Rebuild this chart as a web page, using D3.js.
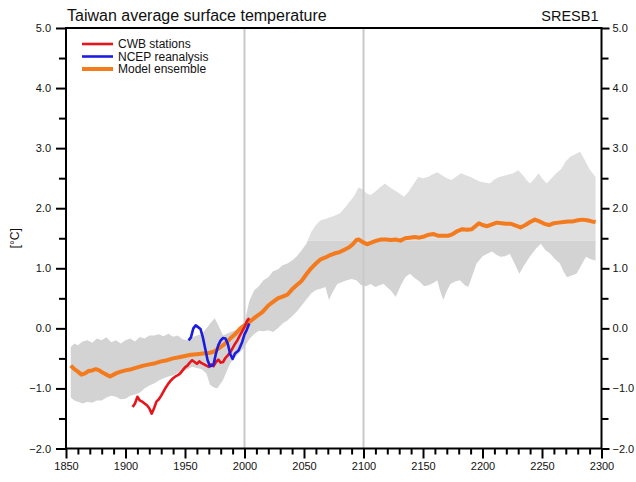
<!DOCTYPE html>
<html>
<head>
<meta charset="utf-8">
<script src="https://cdn.jsdelivr.net/npm/d3@7"></script>
<style>
  html, body { margin: 0; padding: 0; background: #fff; }
  svg { display: block; font-family: "Liberation Sans", Arial, Helvetica, sans-serif; }
</style>
</head>
<body>
<svg id="chart" width="636" height="482"></svg>
<script>
// Ensemble spread (min/max envelope of the model runs)
const bandYears = [1854,1857,1860,1864,1868,1872,1876,1880,1884,1888,1892,1896,1900,1904,1908,1912,1916,1920,1924,1928,1932,1936,1940,1944,1948,1952,1956,1960,1964,1968,1972,1975,1978,1982,1986,1990,1994,1998,2000,2004,2008,2012,2016,2020,2024,2028,2032,2036,2040,2044,2048,2052,2056,2060,2064,2068,2072,2076,2080,2084,2088,2092,2096,2100,2103,2106,2110,2114,2118,2122,2126,2130,2134,2138,2142,2146,2150,2154,2158,2162,2166,2170,2174,2178,2182,2186,2190,2194,2198,2202,2206,2210,2214,2218,2222,2226,2230,2234,2238,2240,2244,2247,2250,2254,2258,2262,2266,2270,2274,2278,2282,2286,2290,2295];
const bandUpper = [-0.31,-0.25,-0.28,-0.22,-0.2,-0.24,-0.17,-0.2,-0.15,-0.23,-0.2,-0.25,-0.2,-0.17,-0.22,-0.145,-0.17,-0.12,-0.12,-0.1,-0.13,-0.09,-0.14,-0.12,-0.18,-0.2,-0.15,-0.12,-0.1,0.0,0.1,0.17,0.05,-0.12,-0.08,-0.05,-0.02,0.05,0.1,0.45,0.63,0.7,0.8,0.85,0.95,0.98,1.05,1.08,1.13,1.2,1.3,1.41,1.6,1.72,1.8,1.82,1.85,1.88,1.91,2.0,2.1,2.2,2.35,2.3,2.24,2.22,2.28,2.35,2.41,2.35,2.3,2.25,2.19,2.28,2.4,2.52,2.5,2.52,2.56,2.6,2.55,2.5,2.47,2.53,2.58,2.55,2.52,2.48,2.44,2.43,2.41,2.48,2.52,2.54,2.56,2.58,2.63,2.55,2.45,2.41,2.5,2.58,2.5,2.41,2.5,2.58,2.65,2.78,2.86,2.9,2.94,2.8,2.65,2.52];
const lowerYears = [1854,1857,1860,1864,1868,1872,1876,1880,1884,1888,1892,1896,1900,1904,1908,1912,1916,1920,1924,1928,1932,1936,1940,1944,1948,1952,1956,1960,1964,1968,1971,1974,1977,1980,1982,1985,1988,1992,1996,2000,2004,2008,2012,2016,2020,2024,2028,2032,2036,2040,2044,2048,2052,2056,2060,2064,2068,2071,2074,2078,2082,2086,2090,2094,2098,2102,2106,2110,2114,2117,2120,2123,2127,2131,2135,2139,2143,2147,2151,2155,2159,2162,2164,2167,2170,2173,2177,2181,2185,2188,2191,2195,2200,2204,2208,2212,2215,2219,2223,2227,2231,2235,2240,2245,2249,2253,2257,2261,2265,2268,2271,2275,2279,2283,2287,2291,2295];
const bandLower = [-1.15,-1.2,-1.22,-1.25,-1.22,-1.24,-1.2,-1.2,-1.15,-1.12,-1.14,-1.18,-1.17,-1.12,-1.1,-1.07,-1.0,-0.95,-0.92,-0.87,-0.83,-0.8,-0.78,-0.74,-0.72,-0.68,-0.64,-0.66,-0.68,-0.75,-0.94,-0.98,-1.0,-0.92,-0.86,-0.72,-0.58,-0.48,-0.4,-0.31,-0.18,-0.1,-0.04,-0.05,-0.03,-0.06,0.0,0.08,0.13,0.2,0.28,0.38,0.48,0.58,0.64,0.66,0.69,0.47,0.6,0.74,0.77,0.8,0.82,0.8,0.72,0.7,0.74,0.69,0.72,0.74,0.68,0.63,0.52,0.7,0.85,0.91,0.84,0.78,0.7,0.72,0.76,0.8,0.65,0.47,0.62,0.74,0.78,0.8,0.72,0.69,0.85,1.08,1.2,1.24,1.28,1.22,1.19,1.2,1.24,1.08,0.91,1.05,1.2,1.33,1.41,1.3,1.24,1.15,1.08,0.95,0.85,0.88,0.91,1.05,1.19,1.15,1.13];

// Model ensemble mean
const modelYears = [1854,1857,1860,1863,1866,1869,1872,1875,1878,1881,1884,1887,1890,1893,1896,1900,1905,1910,1915,1920,1925,1930,1935,1940,1945,1950,1955,1960,1965,1970,1974,1977,1980,1984,1988,1992,1996,2000,2005,2010,2015,2020,2024,2028,2032,2036,2040,2044,2048,2052,2056,2060,2064,2068,2072,2076,2080,2084,2088,2091,2094,2096,2099,2103,2107,2111,2115,2119,2123,2127,2131,2135,2139,2143,2147,2151,2155,2159,2163,2167,2171,2175,2179,2183,2187,2191,2194,2197,2200,2204,2208,2212,2216,2220,2224,2228,2232,2236,2240,2244,2248,2252,2256,2260,2264,2268,2272,2276,2280,2284,2288,2292,2295];
const modelMean = [-0.62,-0.68,-0.72,-0.77,-0.75,-0.71,-0.7,-0.68,-0.7,-0.74,-0.77,-0.8,-0.77,-0.74,-0.72,-0.7,-0.68,-0.65,-0.62,-0.6,-0.58,-0.55,-0.53,-0.5,-0.48,-0.46,-0.44,-0.43,-0.42,-0.41,-0.39,-0.35,-0.31,-0.25,-0.17,-0.1,-0.01,0.05,0.12,0.2,0.27,0.38,0.44,0.5,0.53,0.56,0.65,0.72,0.79,0.9,1.0,1.08,1.15,1.18,1.22,1.25,1.27,1.31,1.35,1.4,1.47,1.48,1.44,1.4,1.43,1.46,1.48,1.48,1.47,1.48,1.46,1.5,1.51,1.52,1.51,1.53,1.56,1.57,1.54,1.54,1.54,1.57,1.62,1.65,1.64,1.65,1.7,1.75,1.72,1.7,1.73,1.76,1.75,1.74,1.74,1.71,1.68,1.72,1.77,1.81,1.78,1.74,1.72,1.75,1.76,1.77,1.78,1.78,1.8,1.81,1.8,1.78,1.77];

// CWB station average
const cwbYears = [1906,1908,1910,1912,1914,1916,1918,1920,1922,1924,1926,1928,1930,1932,1934,1936,1938,1940,1942,1944,1946,1948,1950,1952,1954,1956,1958,1960,1962,1964,1966,1968,1970,1972,1974,1976,1978,1980,1982,1984,1986,1988,1990,1992,1994,1996,1998,2000,2002,2004];
const cwbValues = [-1.31,-1.25,-1.14,-1.2,-1.22,-1.25,-1.28,-1.33,-1.42,-1.33,-1.22,-1.18,-1.12,-1.05,-0.98,-0.92,-0.87,-0.83,-0.8,-0.78,-0.75,-0.7,-0.65,-0.62,-0.57,-0.53,-0.56,-0.59,-0.55,-0.58,-0.6,-0.62,-0.64,-0.6,-0.63,-0.56,-0.52,-0.57,-0.56,-0.49,-0.45,-0.4,-0.33,-0.26,-0.2,-0.12,-0.05,0.02,0.12,0.17];

// NCEP reanalysis
const ncepYears = [1953,1955,1957,1959,1961,1963,1965,1967,1969,1971,1973,1974,1976,1978,1980,1982,1984,1986,1988,1990,1992,1995,1998,2000,2002,2004];
const ncepValues = [-0.2,-0.15,0.0,0.05,0.02,-0.01,-0.15,-0.34,-0.53,-0.63,-0.62,-0.6,-0.42,-0.28,-0.2,-0.16,-0.17,-0.26,-0.43,-0.51,-0.42,-0.37,-0.23,-0.1,-0.02,0.08];

const xMajor = [1850,1900,1950,2000,2050,2100,2150,2200,2250,2300];
const yMajor = [-2,-1,0,1,2,3,4,5];
const markerYears = [2000,2100];
const legendItems = ["CWB stations","NCEP reanalysis","Model ensemble"];
const colors = { cwb: "#e8141c", ncep: "#1c1ce0", model: "#f47a1e" };

const svg = d3.select("#chart");
const m = { left: 66, right: 34.5, top: 28, bottom: 33.5 };
const W = 636, H = 482;
const x = d3.scaleLinear().domain([1850, 2300]).range([m.left, W - m.right]);
const y = d3.scaleLinear().domain([-2, 5]).range([H - m.bottom, m.top]);

svg.append("defs").call(d => {
  d.append("clipPath").attr("id", "clipHigh")
    .append("rect").attr("x", m.left).attr("width", W - m.left - m.right)
    .attr("y", m.top).attr("height", y(1.46) - m.top);
  d.append("clipPath").attr("id", "clipLow")
    .append("rect").attr("x", m.left).attr("width", W - m.left - m.right)
    .attr("y", y(1.46)).attr("height", H - m.bottom - y(1.46));
});

// Envelope polygon: upper edge forward, lower edge back
const upperPts = bandYears.map((yr, i) => [x(yr), y(bandUpper[i])]);
const lowerPts = lowerYears.map((yr, i) => [x(yr), y(bandLower[i])]).reverse();
const polyPath = "M" + upperPts.concat(lowerPts).map(p => p.join(",")).join("L") + "Z";
svg.append("path").attr("d", polyPath).attr("fill", "#dfdfdf").attr("clip-path", "url(#clipHigh)");
svg.append("path").attr("d", polyPath).attr("fill", "#d3d3d3").attr("clip-path", "url(#clipLow)");

// Reference years
svg.selectAll(".marker").data(markerYears).join("line")
  .attr("x1", d => x(d)).attr("x2", d => x(d))
  .attr("y1", m.top).attr("y2", H - m.bottom)
  .attr("stroke", "#c9c9c9").attr("stroke-width", 2);

const line = d3.line().x(d => x(d[0])).y(d => y(d[1])).curve(d3.curveLinear);
svg.append("path").datum(modelYears.map((yr, i) => [yr, modelMean[i]]))
  .attr("d", line).attr("fill", "none").attr("stroke", colors.model)
  .attr("stroke-width", 4).attr("stroke-linejoin", "round");
svg.append("path").datum(cwbYears.map((yr, i) => [yr, cwbValues[i]]))
  .attr("d", line).attr("fill", "none").attr("stroke", colors.cwb)
  .attr("stroke-width", 2.6).attr("stroke-linejoin", "round");
svg.append("path").datum(ncepYears.map((yr, i) => [yr, ncepValues[i]]))
  .attr("d", line).attr("fill", "none").attr("stroke", colors.ncep)
  .attr("stroke-width", 2.6).attr("stroke-linejoin", "round");

// Axes
const fmt = d3.format(".1f");
function styleAxis(g) {
  g.select(".domain").remove();
  g.selectAll(".tick line").attr("stroke", "#000").attr("stroke-width", 2);
  g.selectAll(".tick text").attr("fill", "#111").attr("font-size", 11);
}
const xMinor = d3.range(1850, 2301, 10).filter(v => v % 50 !== 0);
const yMinor = d3.range(-1.5, 5, 1);

svg.append("g").attr("transform", `translate(0,${H - m.bottom})`)
  .call(d3.axisBottom(x).tickValues(xMajor).tickFormat(d3.format("d")).tickSize(10).tickPadding(4))
  .call(styleAxis);
svg.append("g").attr("transform", `translate(0,${H - m.bottom})`)
  .call(d3.axisBottom(x).tickValues(xMinor).tickFormat("").tickSize(6))
  .call(styleAxis);
svg.append("g").attr("transform", `translate(${m.left},0)`)
  .call(d3.axisLeft(y).tickValues(yMajor).tickFormat(fmt).tickSize(10).tickPadding(5))
  .call(styleAxis);
svg.append("g").attr("transform", `translate(${m.left},0)`)
  .call(d3.axisLeft(y).tickValues(yMinor).tickFormat("").tickSize(7))
  .call(styleAxis);
svg.append("g").attr("transform", `translate(${W - m.right},0)`)
  .call(d3.axisRight(y).tickValues(yMajor).tickFormat(fmt).tickSize(8).tickPadding(3))
  .call(styleAxis);
svg.append("g").attr("transform", `translate(${W - m.right},0)`)
  .call(d3.axisRight(y).tickValues(yMinor).tickFormat("").tickSize(7))
  .call(styleAxis);

// Frame
svg.append("rect").attr("x", m.left).attr("y", m.top)
  .attr("width", W - m.left - m.right).attr("height", H - m.top - m.bottom)
  .attr("fill", "none").attr("stroke", "#000").attr("stroke-width", 2);

// Titles
svg.append("text").attr("x", m.left + 1).attr("y", 21).attr("font-size", 16)
  .attr("fill", "#111").text("Taiwan average surface temperature");
svg.append("text").attr("x", W - m.right - 3).attr("y", 21).attr("font-size", 14.5)
  .attr("text-anchor", "end").attr("fill", "#111").text("SRESB1");
svg.append("text").attr("transform", `translate(19,${(m.top + H - m.bottom) / 2}) rotate(-90)`)
  .attr("text-anchor", "middle").attr("font-size", 12).attr("fill", "#111").text("[°C]");

// Legend
const legendColors = [colors.cwb, colors.ncep, colors.model];
const legendWidths = [2.6, 2.6, 4];
const lg = svg.append("g");
legendItems.forEach((name, i) => {
  const ly = 44 + i * 12.5;
  lg.append("line").attr("x1", 82).attr("x2", 113).attr("y1", ly).attr("y2", ly)
    .attr("stroke", legendColors[i]).attr("stroke-width", legendWidths[i]);
  lg.append("text").attr("x", 118).attr("y", ly + 4).attr("font-size", 12)
    .attr("fill", "#111").text(name);
});
</script>
</body>
</html>
